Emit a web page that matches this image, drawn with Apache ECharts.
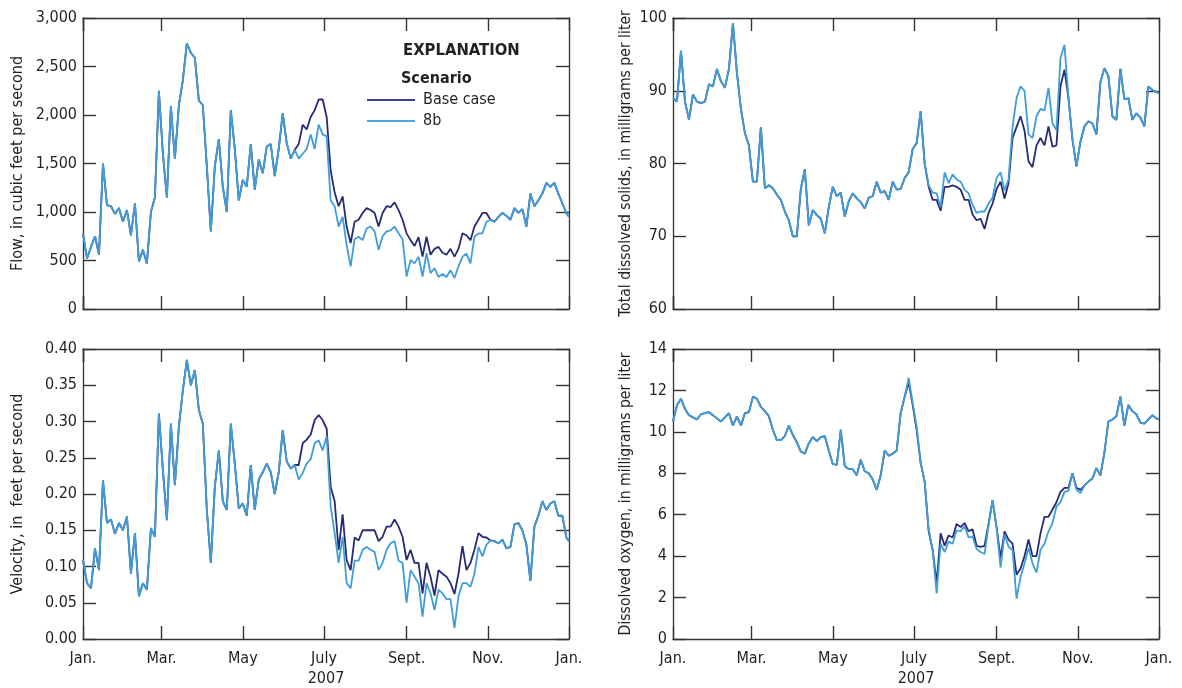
<!DOCTYPE html>
<html>
<head>
<meta charset="utf-8">
<script src="https://cdn.jsdelivr.net/npm/echarts@6/dist/echarts.min.js"></script>
<style>
  html, body { margin: 0; padding: 0; background: #fff; }
  #chart { width: 1182px; height: 688px; }
</style>
</head>
<body>
<div id="chart"></div>
<script>
// day of year 2007 (0 = Jan 1)
const days = [0,3,6,9,12,15,18,21,24,27,30,33,36,39,42,45,48,51,54,57,60,63,66,69,72,75,78,81,84,87,
  90,93,96,99,102,105,108,111,114,117,120,123,126,129,132,135,138,141,144,147,150,153,156,159,
  162,165,168,171,174,177,180,183,186,189,192,195,198,201,204,207,210,213,216,219,222,225,228,231,234,237,
  240,243,246,249,252,255,258,261,264,267,270,273,276,279,282,285,288,291,294,297,300,303,306,309,312,315,
  318,321,324,327,330,333,336,339,342,345,348,351,354,357,360,363,365];

// x tick labels: Jan., Mar., ... every second month, ending at Jan. 2008
const monthLabels = ['Jan.', 'Mar.', 'May', 'July', 'Sept.', 'Nov.', 'Jan.'];

// Jan 1 - June 8, both scenarios identical
const flowHead = [780,520,640,750,560,1500,1070,1060,980,1040,900,1020,760,1090,490,610,470,1000,1150,2250,
  1600,1150,2090,1550,2100,2360,2740,2640,2590,2150,2100,1470,800,1470,1750,1260,1000,2050,1650,1120,
  1330,1260,1700,1230,1540,1400,1675,1700,1370,1650,2020,1710,1550,1640];
const flowBaseTail = [1700,1900,1850,1980,2050,2160,2160,1980,1430,1200,1060,1160,850,680,900,920,990,1040,1020,990,
  850,990,1060,1050,1100,1020,920,780,710,650,740,540,745,560,620,640,580,560,620,540,
  620,780,760,710,850,920,990,990,920,900,950,990,960,920,1040,990,1030,850,1190,1060,
  1120,1190,1300,1260,1300,1190,1090,990,950];
const flow8bTail = [1550,1600,1650,1800,1650,1900,1800,1780,1120,1060,850,950,660,440,720,745,710,830,850,800,
  610,750,800,810,850,780,720,335,505,470,540,335,575,370,420,330,360,330,400,320,
  440,540,570,470,745,780,780,900,920,900,950,990,960,920,1040,990,1030,850,1190,1060,
  1120,1190,1300,1260,1300,1190,1090,990,950];

const velHead = [0.109,0.077,0.070,0.125,0.095,0.219,0.160,0.165,0.145,0.160,0.150,0.169,0.090,0.146,0.059,0.077,0.068,0.153,0.141,0.311,
  0.233,0.164,0.297,0.212,0.293,0.343,0.385,0.350,0.371,0.316,0.297,0.178,0.105,0.210,0.260,0.190,0.178,0.297,0.242,0.180,
  0.187,0.170,0.240,0.178,0.220,0.230,0.242,0.230,0.200,0.230,0.288,0.245,0.235,0.240];
const velBaseTail = [0.240,0.270,0.275,0.282,0.302,0.309,0.302,0.290,0.210,0.190,0.123,0.172,0.109,0.095,0.140,0.136,0.150,0.150,0.150,0.150,
  0.135,0.141,0.155,0.155,0.165,0.155,0.141,0.109,0.123,0.105,0.105,0.063,0.105,0.086,0.060,0.095,0.090,0.086,0.077,0.062,
  0.090,0.128,0.095,0.105,0.123,0.146,0.141,0.140,0.136,0.135,0.132,0.137,0.125,0.127,0.158,0.160,0.150,0.130,0.080,0.155,
  0.170,0.190,0.178,0.187,0.190,0.170,0.170,0.140,0.135];
const vel8bTail = [0.220,0.229,0.242,0.248,0.270,0.274,0.260,0.280,0.183,0.146,0.105,0.141,0.077,0.070,0.108,0.108,0.123,0.127,0.123,0.120,
  0.095,0.105,0.123,0.132,0.135,0.108,0.105,0.050,0.095,0.086,0.077,0.031,0.077,0.063,0.040,0.068,0.063,0.055,0.055,0.015,
  0.059,0.077,0.077,0.072,0.090,0.127,0.114,0.130,0.136,0.135,0.132,0.137,0.125,0.127,0.158,0.160,0.150,0.130,0.080,0.155,
  0.170,0.190,0.178,0.187,0.190,0.170,0.170,0.140,0.135];

const tdsHead = [89.0,88.5,95.5,88.5,86.0,89.5,88.5,88.3,88.5,90.9,90.6,93.0,91.3,90.4,93.0,99.3,92.5,87.5,84.2,82.5,
  77.5,77.5,85.0,76.6,77.0,76.6,75.7,75.0,73.4,72.2,70.0,70.0,76.5,79.2,71.5,73.6,72.9,72.4,70.4,74.0,
  76.8,75.5,76.0,72.7,74.8,75.9,75.2,74.7,73.8,75.3,75.5,77.5,76.0,76.2];
const tdsBaseTail = [75.0,77.5,76.4,76.5,78.0,78.8,82.0,82.8,87.2,80.0,76.8,75.0,75.0,73.5,76.8,76.8,77.0,76.8,76.4,75.0,
  75.0,73.0,72.2,72.4,71.0,73.2,74.5,76.5,77.5,75.2,77.3,83.5,85.0,86.5,84.5,80.3,79.5,82.5,83.5,82.5,
  85.1,82.3,82.5,90.6,92.9,89.0,83.3,79.6,83.0,85.1,85.8,85.5,84.0,91.2,93.1,92.0,86.5,86.0,93.0,88.8,
  89.0,86.0,86.9,86.3,85.1,90.6,90.1,89.8,89.7];
const tds8bTail = [75.0,77.5,76.4,76.5,78.0,78.8,82.0,82.8,87.2,80.0,77.0,76.0,75.9,74.0,78.8,77.3,78.5,77.8,77.5,76.4,
  75.9,74.3,73.2,73.4,73.4,74.5,75.3,78.0,78.8,76.3,77.8,85.0,89.0,90.6,90.0,84.0,83.5,86.5,87.5,87.3,
  90.4,85.5,84.6,94.5,96.3,89.0,83.3,79.6,83.0,85.1,85.8,85.5,84.0,91.2,93.1,92.0,86.5,86.0,93.0,88.8,
  89.0,86.0,86.9,86.3,85.1,90.6,90.1,89.8,89.7];

const doHead = [10.5,11.3,11.6,11.1,10.8,10.7,10.6,10.85,10.9,10.95,10.8,10.65,10.5,10.7,10.9,10.3,10.75,10.3,10.9,10.95,
  11.7,11.6,11.2,11.0,10.75,10.1,9.6,9.6,9.8,10.3,9.85,9.5,9.05,8.95,9.45,9.75,9.55,9.75,9.8,9.1,
  8.45,8.4,10.1,8.35,8.2,8.2,7.9,8.65,8.1,8.0,7.7,7.2,7.9,9.1];
const doBaseTail = [8.85,8.95,9.1,10.9,11.7,12.4,11.3,10.1,8.5,7.6,5.2,4.3,2.7,5.1,4.5,5.0,4.9,5.55,5.4,5.6,
  5.2,5.3,4.5,4.45,4.5,5.55,6.7,5.4,3.9,5.2,4.8,4.6,3.1,3.4,4.0,4.8,4.0,4.0,5.1,5.9,
  5.9,6.25,6.6,7.1,7.3,7.3,8.0,7.3,7.2,7.4,7.6,7.75,8.25,7.9,9.0,10.5,10.6,10.75,11.7,10.3,
  11.3,11.0,10.85,10.45,10.4,10.6,10.8,10.65,10.6];
const do8bTail = [8.85,8.95,9.1,10.9,11.7,12.6,11.4,10.25,8.5,7.6,5.3,4.3,2.2,4.6,4.2,4.7,4.6,5.25,5.2,5.45,
  4.9,4.95,4.35,4.2,4.1,5.5,6.7,5.4,3.45,5.05,4.45,4.3,1.95,3.0,3.65,4.4,3.65,3.2,4.3,4.6,
  5.2,5.6,6.4,6.6,7.1,7.15,8.0,7.2,7.05,7.4,7.6,7.75,8.25,7.9,9.0,10.5,10.6,10.75,11.7,10.3,
  11.3,11.0,10.85,10.45,10.4,10.6,10.8,10.65,10.6];

const FONT = "'DejaVu Sans Condensed', 'Liberation Sans Narrow', sans-serif";
const INK = '#231f20';
const FRAME = '#333333';
const BASE_COLOR = '#262b74';
const ALT_COLOR = '#3f9ed9';

const t0 = new Date(2007, 0, 1).getTime();
const t1 = new Date(2008, 0, 1).getTime();
const toTime = (d) => new Date(2007, 0, 1 + d).getTime();
const monthText = (v) => {
  const dt = new Date(v);
  return monthLabels[(dt.getFullYear() - 2007) * 6 + Math.floor(dt.getMonth() / 2)] || '';
};

const panels = [
  { left: 83, top: 18, height: 291, head: flowHead, base: flowBaseTail, alt: flow8bTail,
    min: 0, max: 3000, interval: 500, name: 'Flow, in cubic feet per second', nameGap: 57, nameSize: 16,
    fmt: (v) => v.toLocaleString('en-US'), bottom: false },
  { left: 83, top: 349, height: 290, head: velHead, base: velBaseTail, alt: vel8bTail,
    min: 0, max: 0.4, interval: 0.05, name: 'Velocity, in  feet per second', nameGap: 57, nameSize: 16,
    fmt: (v) => v.toFixed(2), bottom: true },
  { left: 673, top: 18, height: 291, head: tdsHead, base: tdsBaseTail, alt: tds8bTail,
    min: 60, max: 100, interval: 10, name: 'Total dissolved solids, in milligrams per liter', nameGap: 39, nameSize: 15.6,
    fmt: (v) => String(v), bottom: false },
  { left: 673, top: 349, height: 290, head: doHead, base: doBaseTail, alt: do8bTail,
    min: 0, max: 14, interval: 2, name: 'Dissolved oxygen, in milligrams per liter', nameGap: 39, nameSize: 15.6,
    fmt: (v) => String(v), bottom: true },
];

const grids = [], xAxes = [], yAxes = [], series = [];
const tick = { show: true, inside: true, length: 13, lineStyle: { color: FRAME, width: 1.4 } };
const line = { show: true, onZero: false, lineStyle: { color: FRAME, width: 1.3 } };

panels.forEach((p, g) => {
  grids.push({ left: p.left, top: p.top, width: 486, height: p.height });
  xAxes.push({
    gridIndex: g, type: 'time', min: t0, max: t1, splitNumber: 5, position: 'bottom',
    axisLine: line, splitLine: { show: false }, axisTick: tick,
    axisLabel: {
      show: p.bottom, margin: 12, showMinLabel: true, showMaxLabel: true, hideOverlap: false,
      color: INK, fontFamily: FONT, fontSize: 16, fontWeight: 'normal',
      formatter: monthText,
    },
    name: p.bottom ? '2007' : '', nameLocation: 'middle', nameGap: 32,
    nameTextStyle: { color: INK, fontFamily: FONT, fontSize: 16 },
  });
  xAxes.push({
    gridIndex: g, type: 'time', min: t0, max: t1, splitNumber: 5, position: 'top',
    axisLine: line, splitLine: { show: false }, axisTick: tick, axisLabel: { show: false },
  });
  yAxes.push({
    gridIndex: g, type: 'value', min: p.min, max: p.max, interval: p.interval, position: 'left',
    axisLine: line, splitLine: { show: false }, axisTick: tick,
    axisLabel: { margin: 6, color: INK, fontFamily: FONT, fontSize: 16, formatter: p.fmt },
    name: p.name, nameLocation: 'middle', nameRotate: 90, nameGap: p.nameGap,
    nameTextStyle: { color: INK, fontFamily: FONT, fontSize: p.nameSize },
  });
  yAxes.push({
    gridIndex: g, type: 'value', min: p.min, max: p.max, interval: p.interval, position: 'right',
    axisLine: line, splitLine: { show: false }, axisTick: tick, axisLabel: { show: false },
  });
  const baseVals = p.head.concat(p.base);
  const altVals = p.head.concat(p.alt);
  series.push({
    name: 'Base case', type: 'line', xAxisIndex: 2 * g, yAxisIndex: 2 * g,
    symbol: 'none', showSymbol: false, animation: false,
    lineStyle: { color: BASE_COLOR, width: 1.8 }, itemStyle: { color: BASE_COLOR },
    data: days.map((d, i) => [toTime(d), baseVals[i]]),
  });
  series.push({
    name: '8b', type: 'line', xAxisIndex: 2 * g, yAxisIndex: 2 * g,
    symbol: 'none', showSymbol: false, animation: false,
    lineStyle: { color: ALT_COLOR, width: 1.8 }, itemStyle: { color: ALT_COLOR },
    data: days.map((d, i) => [toTime(d), altVals[i]]),
  });
});

const chart = echarts.init(document.getElementById('chart'), null, { renderer: 'canvas' });
chart.setOption({
  animation: false,
  textStyle: { fontFamily: FONT },
  grid: grids,
  xAxis: xAxes,
  yAxis: yAxes,
  series: series,
  legend: {
    data: [
      { name: 'Base case', icon: 'rect', itemStyle: { color: '#3b3f8a' } },
      { name: '8b', icon: 'rect', itemStyle: { color: '#4aa8e0' } },
    ],
    orient: 'vertical', left: 367, top: 92, padding: 0,
    itemWidth: 48, itemHeight: 2, itemGap: 5,
    textStyle: { color: INK, fontFamily: FONT, fontSize: 16, padding: [0, 0, 0, 3] },
  },
  graphic: [
    { type: 'text', left: 403, top: 42,
      style: { text: 'EXPLANATION', fill: INK, font: 'bold 16.5px ' + FONT } },
    { type: 'text', left: 401, top: 71,
      style: { text: 'Scenario', fill: INK, font: 'bold 16px ' + FONT } },
  ],
});
</script>
</body>
</html>
